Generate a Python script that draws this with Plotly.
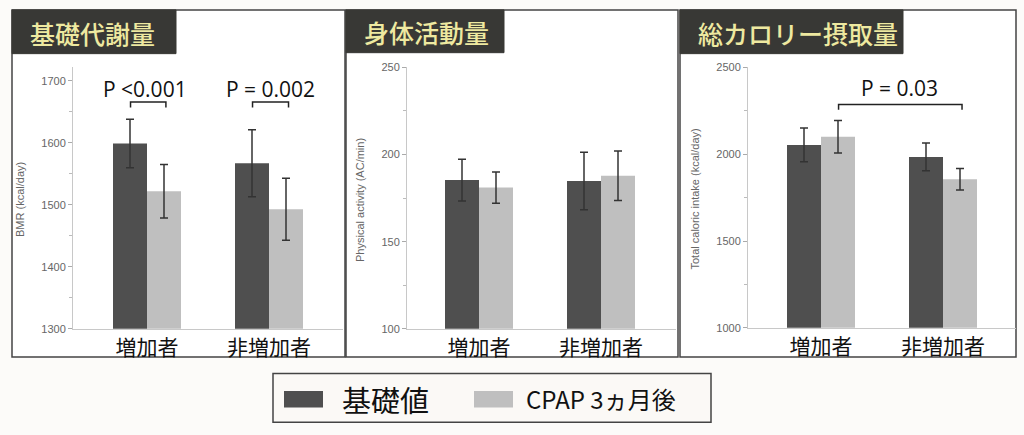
import plotly.graph_objects as go

W, H = 1024, 435

# ---------------- data ----------------
groups = ["増加者", "非増加者"]
series_names = ["基礎値", "CPAP 3ヵ月後"]

bmr_base = [1599, 1567]
bmr_base_err = [39, 54]
bmr_cpap = [1522, 1493]
bmr_cpap_err = [43, 50]

pa_base = [185.3, 184.8]
pa_base_err = [12, 16.5]
pa_cpap = [181, 187.8]
pa_cpap_err = [9, 14.2]

kcal_base = [2053, 1984]
kcal_base_err = [97, 80]
kcal_cpap = [2100, 1855]
kcal_cpap_err = [93, 62]

panel_titles = ["基礎代謝量", "身体活動量", "総カロリー摂取量"]
y_titles = ["BMR (kcal/day)", "Physical activity (AC/min)", "Total caloric intake (kcal/day)"]
y_ranges = [[1300, 1722], [100, 250], [1000, 2500]]
y_dticks = [100, 50, 500]
p_texts = ["P <0.001", "P = 0.002", "P = 0.03"]

DARK = "#4f4f4f"
LIGHT = "#bfbfbf"
ERR = "#333333"
JP = "Noto Sans CJK JP"

def px_x(p):
    return p / W

def px_y(p):
    return 1 - p / H

# panel geometry (pixels)
panels = [
    dict(ax_l=73, ax_r=343, ax_t=63, ax_b=332, c0=147, box=(12, 4, 345, 361), head=(12, 4, 176, 49), ytitle_x=20),
    dict(ax_l=407, ax_r=676, ax_t=63, ax_b=332, c0=479, box=(346, 4, 678, 361), head=(346, 4, 504, 48), ytitle_x=360),
    dict(ax_l=748, ax_r=1016, ax_t=63, ax_b=331, c0=821, box=(680, 4, 1016, 361), head=(680, 4, 903, 49), ytitle_x=695),
]
SPACING = 122.0
BW = 34.0 / SPACING

data_sets = [
    (bmr_base, bmr_base_err, bmr_cpap, bmr_cpap_err),
    (pa_base, pa_base_err, pa_cpap, pa_cpap_err),
    (kcal_base, kcal_base_err, kcal_cpap, kcal_cpap_err),
]

fig = go.Figure()
layout = dict(
    width=W, height=H,
    margin=dict(l=0, r=0, t=0, b=0),
    paper_bgcolor="#fcfbf9",
    plot_bgcolor="rgba(0,0,0,0)",
    showlegend=False,
    barmode="overlay",
)
shapes = []
annotations = []

for i, (pn, ds) in enumerate(zip(panels, data_sets)):
    xn = "x" if i == 0 else f"x{i+1}"
    yn = "y" if i == 0 else f"y{i+1}"
    xk = "xaxis" if i == 0 else f"xaxis{i+1}"
    yk = "yaxis" if i == 0 else f"yaxis{i+1}"

    # panel background and border
    bx0, by0, bx1, by1 = pn["box"]
    shapes.append(dict(type="rect", xref="paper", yref="paper", layer="below",
                       x0=px_x(bx0), x1=px_x(bx1), y0=px_y(by1), y1=px_y(by0),
                       fillcolor="white", line=dict(color="#444444", width=1.5)))
    hx0, hy0, hx1, hy1 = pn["head"]
    shapes.append(dict(type="rect", xref="paper", yref="paper", layer="above",
                       x0=px_x(hx0), x1=px_x(hx1), y0=px_y(hy1), y1=px_y(hy0),
                       fillcolor="#383835", line=dict(color="#383835", width=1)))
    annotations.append(dict(xref="paper", yref="paper", x=px_x(hx0 + 16), y=px_y((hy0 + hy1) / 2 + 1),
                            xanchor="left", yanchor="middle", showarrow=False,
                            text=panel_titles[i],
                            font=dict(family=JP, size=25, color="#eee9a0", weight=500)))

    base, base_err, cpap, cpap_err = ds
    xs = list(range(len(groups)))
    fig.add_trace(go.Bar(x=xs, y=base, width=BW, offset=-BW, marker_color=DARK,
                         marker_line_width=0, name=series_names[0],
                         error_y=dict(type="data", array=base_err, color=ERR, thickness=1.5, width=4),
                         xaxis=xn, yaxis=yn))
    fig.add_trace(go.Bar(x=xs, y=cpap, width=BW, offset=0, marker_color=LIGHT,
                         marker_line_width=0, name=series_names[1],
                         error_y=dict(type="data", array=cpap_err, color=ERR, thickness=1.5, width=4),
                         xaxis=xn, yaxis=yn))

    left = -(pn["c0"] - pn["ax_l"]) / SPACING
    right = 1 + (pn["ax_r"] - (pn["c0"] + SPACING)) / SPACING
    layout[xk] = dict(domain=[px_x(pn["ax_l"]), px_x(pn["ax_r"])], range=[left, right],
                      anchor=yn, tickvals=xs, ticktext=groups, showgrid=False, zeroline=False,
                      showline=True, linecolor="#c8c8c8", linewidth=1, ticks="",
                      tickfont=dict(family=JP, size=21, color="#111111"), fixedrange=True)
    layout[yk] = dict(domain=[px_y(pn["ax_b"]), px_y(pn["ax_t"])], range=y_ranges[i],
                      anchor=xn, dtick=y_dticks[i], tick0=y_ranges[i][0], showgrid=False, zeroline=False,
                      showline=True, linecolor="#c8c8c8", linewidth=1,
                      ticks="outside", ticklen=4, tickcolor="#aaaaaa", tickwidth=1,
                      minor=dict(dtick=y_dticks[i] / 2, ticks="outside", ticklen=3, tickcolor="#bbbbbb"),
                      tickfont=dict(family="Liberation Sans", size=11, color="#666666"), fixedrange=True)
    annotations.append(dict(xref="paper", yref="paper", x=px_x(pn["ytitle_x"]),
                            y=px_y((pn["ax_t"] + pn["ax_b"]) / 2 + 2), textangle=-90,
                            showarrow=False, text=y_titles[i], xanchor="center", yanchor="middle",
                            font=dict(family="Liberation Sans", size=11, color="#666666")))

# significance brackets (data coordinates)
def bracket(xn, yn, x0, x1, ytop, ybot, text, ytext, tx):
    shapes.append(dict(type="path", xref=xn, yref=yn,
                       path=f"M {x0} {ybot} L {x0} {ytop} L {x1} {ytop} L {x1} {ybot}",
                       line=dict(color="#222222", width=1.5)))
    annotations.append(dict(xref=xn, yref=yn, x=tx, y=ytext, text=text, showarrow=False,
                            xanchor="center", yanchor="middle",
                            font=dict(family="Open Sans", size=21, color="#111111")))

bracket("x", "y", -0.135, 0.155, 1666, 1657, p_texts[0], 1687, -0.015)
bracket("x", "y", 0.865, 1.16, 1666, 1657, p_texts[1], 1687, 1.01)
bracket("x3", "y3", 0.144, 1.156, 2285, 2255, p_texts[2], 2378, 0.64)

# legend (drawn manually)
shapes.append(dict(type="rect", xref="paper", yref="paper", x0=px_x(273), x1=px_x(711),
                   y0=px_y(428), y1=px_y(378), fillcolor="#fbf9f6", line=dict(color="#444444", width=1.5)))
shapes.append(dict(type="rect", xref="paper", yref="paper", x0=px_x(284), x1=px_x(323),
                   y0=px_y(413), y1=px_y(396), fillcolor=DARK, line=dict(width=0)))
shapes.append(dict(type="rect", xref="paper", yref="paper", x0=px_x(474), x1=px_x(513),
                   y0=px_y(413), y1=px_y(396), fillcolor=LIGHT, line=dict(width=0)))
annotations.append(dict(xref="paper", yref="paper", x=px_x(340), y=px_y(404), xanchor="left",
                        yanchor="middle", showarrow=False, text=series_names[0],
                        font=dict(family=JP, size=29, color="#111111")))
annotations.append(dict(xref="paper", yref="paper", x=px_x(524), y=px_y(404), xanchor="left",
                        yanchor="middle", showarrow=False, text=series_names[1],
                        font=dict(family=JP, size=24, color="#111111")))

layout["shapes"] = shapes
layout["annotations"] = annotations
fig.update_layout(**layout)
fig.write_html("out.html", config=dict(displayModeBar=False),
               post_script="document.body.style.margin='0';document.body.style.overflow='hidden';")
